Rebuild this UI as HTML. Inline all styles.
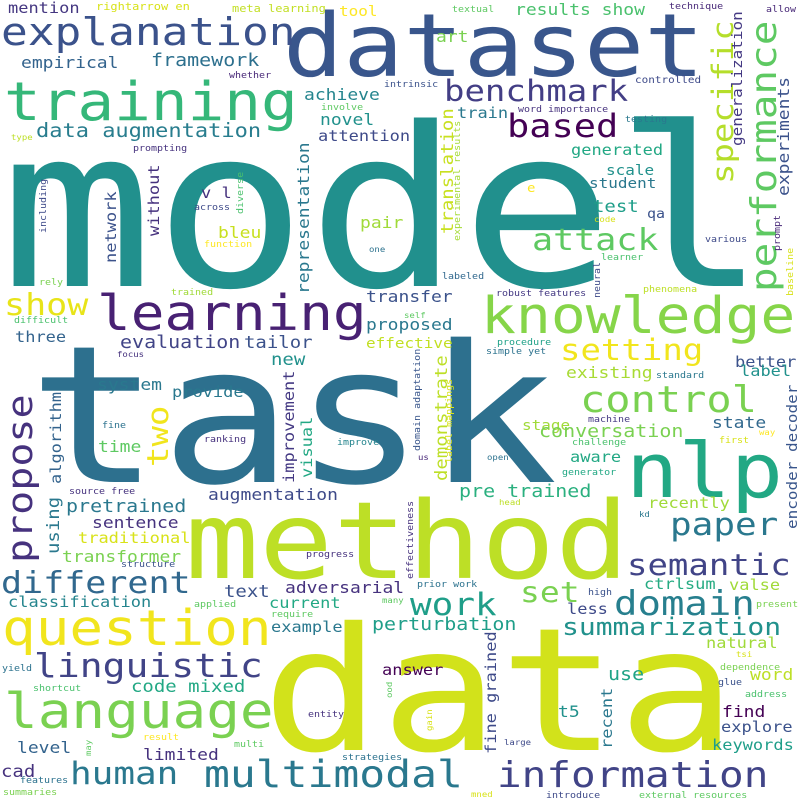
<!DOCTYPE html>
<html><head><meta charset="utf-8"><style>
html,body{margin:0;padding:0;background:#fff;}
svg{display:block;}
text{font-family:"DejaVu Sans Mono","Liberation Mono",monospace;}
</style></head><body>
<svg width="800" height="800" viewBox="0 0 800 800" xmlns="http://www.w3.org/2000/svg">
<rect width="800" height="800" fill="#fff"/>
<text transform="translate(0,286) scale(1,.87)" font-size="255" fill="#21908d">model</text>
<text transform="translate(28,482) scale(1,.87)" font-size="220" fill="#2d708e">task</text>
<text transform="translate(262,750) scale(1,.87)" font-size="197" fill="#d2e21b">data</text>
<text transform="translate(185,578) scale(1,.87)" font-size="123" fill="#bddf26">method</text>
<text transform="translate(283,76) scale(1,.87)" font-size="100" fill="#39568c">dataset</text>
<text transform="translate(626,497) scale(1,.87)" font-size="87" fill="#22a884">nlp</text>
<text transform="translate(1,45) scale(1,.87)" font-size="44.5" fill="#3b528b">explanation</text>
<text transform="translate(4,120) scale(1,.87)" font-size="61" fill="#35b779">training</text>
<text transform="translate(481,333) scale(1,.87)" font-size="58" fill="#86d549">knowledge</text>
<text transform="translate(97,330) scale(1,.87)" font-size="56" fill="#482173">learning</text>
<text transform="translate(2,645) scale(1,.87)" font-size="56" fill="#f1e51d">question</text>
<text transform="translate(4,728) scale(1,.87)" font-size="56" fill="#7ad151">language</text>
<text transform="translate(204,787) scale(1,.87)" font-size="43" fill="#2a788e">multimodal</text>
<text transform="translate(497,787) scale(1,.87)" font-size="41" fill="#414487">information</text>
<text transform="translate(70,784) scale(1,.87)" font-size="36" fill="#2a788e">human</text>
<text transform="translate(34,677) scale(1,.87)" font-size="38" fill="#414487">linguistic</text>
<text transform="translate(1,593) scale(1,.87)" font-size="35" fill="#31688e">different</text>
<text transform="translate(32,563) rotate(-90) scale(1,.87)" font-size="40" fill="#46327e">propose</text>
<text transform="translate(776,292) rotate(-90) scale(1,.87)" font-size="41" fill="#5ec962">performance</text>
<text transform="translate(733,184) rotate(-90) scale(1,.87)" font-size="34" fill="#b5de2b">specific</text>
<text transform="translate(444,101) scale(1,.87)" font-size="34" fill="#433e85">benchmark</text>
<text transform="translate(507,137) scale(1,.87)" font-size="37" fill="#440154">based</text>
<text transform="translate(532,250) scale(1,.87)" font-size="35" fill="#5ec962">attack</text>
<text transform="translate(580,412) scale(1,.87)" font-size="42" fill="#7ad151">control</text>
<text transform="translate(560,360) scale(1,.87)" font-size="34" fill="#f1e51d">setting</text>
<text transform="translate(670,535) scale(1,.87)" font-size="36" fill="#2a788e">paper</text>
<text transform="translate(627,575) scale(1,.87)" font-size="34" fill="#414487">semantic</text>
<text transform="translate(614,615) scale(1,.87)" font-size="39" fill="#277f8e">domain</text>
<text transform="translate(410,615) scale(1,.87)" font-size="36" fill="#1f9e89">work</text>
<text transform="translate(520,602) scale(1,.87)" font-size="33" fill="#7ad151">set</text>
<text transform="translate(562,635) scale(1,.87)" font-size="28" fill="#21918c">summarization</text>
<text transform="translate(4,315) scale(1,.87)" font-size="35" fill="#e8e419">show</text>
<text transform="translate(168,467) rotate(-90) scale(1,.87)" font-size="34" fill="#f1e51d">two</text>
<text transform="translate(36,137) scale(1,.87)" font-size="22" fill="#287d8e">data augmentation</text>
<text transform="translate(120,348) scale(1,.87)" font-size="20" fill="#414487">evaluation</text>
<text transform="translate(244,348) scale(1,.87)" font-size="19" fill="#3b528b">tailor</text>
<text transform="translate(8,13) scale(1,.87)" font-size="17" fill="#453781">mention</text>
<text transform="translate(96,10) scale(1,.87)" font-size="12" fill="#d8e219">rightarrow en</text>
<text transform="translate(232,12) scale(1,.87)" font-size="12" fill="#c2df23">meta learning</text>
<text transform="translate(339,16) scale(1,.87)" font-size="16" fill="#fde725">tool</text>
<text transform="translate(21,68) scale(1,.87)" font-size="18" fill="#33638d">empirical</text>
<text transform="translate(151,66) scale(1,.87)" font-size="20" fill="#2d708e">framework</text>
<text transform="translate(229,78) scale(1,.87)" font-size="10" fill="#482878">whether</text>
<text transform="translate(304,100) scale(1,.87)" font-size="18" fill="#25858e">achieve</text>
<text transform="translate(321,110) scale(1,.87)" font-size="10" fill="#5ec962">involve</text>
<text transform="translate(320,125) scale(1,.87)" font-size="18" fill="#21918c">novel</text>
<text transform="translate(318,141) scale(1,.87)" font-size="17" fill="#3e4a89">attention</text>
<text transform="translate(11,140) scale(1,.87)" font-size="9" fill="#bddf26">type</text>
<text transform="translate(133,151) scale(1,.87)" font-size="10" fill="#46327e">prompting</text>
<text transform="translate(384,87) scale(1,.87)" font-size="10" fill="#3b528b">intrinsic</text>
<text transform="translate(452,12) scale(1,.87)" font-size="10" fill="#5ec962">textual</text>
<text transform="translate(515,15) scale(1,.87)" font-size="18" fill="#4ac16d">results show</text>
<text transform="translate(669,9) scale(1,.87)" font-size="10" fill="#482878">technique</text>
<text transform="translate(766,12) scale(1,.87)" font-size="10" fill="#482878">allow</text>
<text transform="translate(436,42) scale(1,.87)" font-size="18" fill="#7ad151">art</text>
<text transform="translate(742,146) rotate(-90) scale(1,.87)" font-size="16" fill="#443983">generalization</text>
<text transform="translate(789,196) rotate(-90) scale(1,.87)" font-size="18" fill="#3b528b">experiments</text>
<text transform="translate(635,83) scale(1,.87)" font-size="11" fill="#3e4a89">controlled</text>
<text transform="translate(457,118) scale(1,.87)" font-size="17" fill="#2a788e">train</text>
<text transform="translate(518,112) scale(1,.87)" font-size="10" fill="#46327e">word importance</text>
<text transform="translate(625,122) scale(1,.87)" font-size="10" fill="#2a788e">testing</text>
<text transform="translate(453,234) rotate(-90) scale(1,.87)" font-size="19" fill="#c8e020">translation</text>
<text transform="translate(460,241) rotate(-90) scale(1,.87)" font-size="10" fill="#a5db36">experimental results</text>
<text transform="translate(571,155) scale(1,.87)" font-size="17" fill="#22a884">generated</text>
<text transform="translate(606,175) scale(1,.87)" font-size="16" fill="#21918c">scale</text>
<text transform="translate(589,188) scale(1,.87)" font-size="16" fill="#2a788e">student</text>
<text transform="translate(527,192) scale(1,.87)" font-size="14" fill="#fde725">e</text>
<text transform="translate(593,212) scale(1,.87)" font-size="19" fill="#1f9e89">test</text>
<text transform="translate(647,218) scale(1,.87)" font-size="15" fill="#3b528b">qa</text>
<text transform="translate(594,222) scale(1,.87)" font-size="9" fill="#d8e219">code</text>
<text transform="translate(705,242) scale(1,.87)" font-size="10" fill="#3e4a89">various</text>
<text transform="translate(780,251) rotate(-90) scale(1,.87)" font-size="10" fill="#482878">prompt</text>
<text transform="translate(793,296) rotate(-90) scale(1,.87)" font-size="10" fill="#d8e219">baseline</text>
<text transform="translate(601,260) scale(1,.87)" font-size="10" fill="#4ac16d">learner</text>
<text transform="translate(442,279) scale(1,.87)" font-size="10" fill="#31688e">labeled</text>
<text transform="translate(600,298) rotate(-90) scale(1,.87)" font-size="10" fill="#3e4a89">neural</text>
<text transform="translate(643,292) scale(1,.87)" font-size="10" fill="#bddf26">phenomena</text>
<text transform="translate(496,296) scale(1,.87)" font-size="10" fill="#443983">robust features</text>
<text transform="translate(366,302) scale(1,.87)" font-size="18" fill="#3b528b">transfer</text>
<text transform="translate(366,330) scale(1,.87)" font-size="18" fill="#2a788e">proposed</text>
<text transform="translate(366,348) scale(1,.87)" font-size="16" fill="#c2df23">effective</text>
<text transform="translate(404,318) scale(1,.87)" font-size="9" fill="#5ec962">self</text>
<text transform="translate(497,345) scale(1,.87)" font-size="10" fill="#1fa188">procedure</text>
<text transform="translate(486,354) scale(1,.87)" font-size="10" fill="#2c728e">simple yet</text>
<text transform="translate(735,367) scale(1,.87)" font-size="17" fill="#3b528b">better</text>
<text transform="translate(740,376) scale(1,.87)" font-size="17" fill="#21918c">label</text>
<text transform="translate(566,378) scale(1,.87)" font-size="18" fill="#a8db34">existing</text>
<text transform="translate(656,378) scale(1,.87)" font-size="10" fill="#2a788e">standard</text>
<text transform="translate(447,481) rotate(-90) scale(1,.87)" font-size="19" fill="#bddf26">demonstrate</text>
<text transform="translate(420,451) rotate(-90) scale(1,.87)" font-size="10" fill="#39568c">domain adaptation</text>
<text transform="translate(452,463) rotate(-90) scale(1,.87)" font-size="10" fill="#d8e219">label mappings</text>
<text transform="translate(797,529) rotate(-90) scale(1,.87)" font-size="16" fill="#39568c">encoder decoder</text>
<text transform="translate(522,430) scale(1,.87)" font-size="16" fill="#a0da39">stage</text>
<text transform="translate(588,422) scale(1,.87)" font-size="10" fill="#443983">machine</text>
<text transform="translate(539,437) scale(1,.87)" font-size="20" fill="#7ad151">conversation</text>
<text transform="translate(712,428) scale(1,.87)" font-size="18" fill="#31688e">state</text>
<text transform="translate(759,435) scale(1,.87)" font-size="9" fill="#fde725">way</text>
<text transform="translate(719,443) scale(1,.87)" font-size="10" fill="#d8e219">first</text>
<text transform="translate(572,445) scale(1,.87)" font-size="10" fill="#4ac16d">challenge</text>
<text transform="translate(418,460) scale(1,.87)" font-size="9" fill="#482878">us</text>
<text transform="translate(487,460) scale(1,.87)" font-size="9" fill="#2c728e">open</text>
<text transform="translate(570,462) scale(1,.87)" font-size="17" fill="#22a884">aware</text>
<text transform="translate(562,475) scale(1,.87)" font-size="10" fill="#22a884">generator</text>
<text transform="translate(459,497) scale(1,.87)" font-size="20" fill="#2ab07f">pre trained</text>
<text transform="translate(499,505) scale(1,.87)" font-size="9" fill="#bddf26">head</text>
<text transform="translate(648,508) scale(1,.87)" font-size="17" fill="#a0da39">recently</text>
<text transform="translate(639,517) scale(1,.87)" font-size="9" fill="#2a788e">kd</text>
<text transform="translate(413,579) rotate(-90) scale(1,.87)" font-size="10" fill="#46327e">effectiveness</text>
<text transform="translate(417,587) scale(1,.87)" font-size="10" fill="#2c728e">prior work</text>
<text transform="translate(644,589) scale(1,.87)" font-size="17" fill="#25ab82">ctrlsum</text>
<text transform="translate(729,590) scale(1,.87)" font-size="17" fill="#a0da39">valse</text>
<text transform="translate(588,595) scale(1,.87)" font-size="10" fill="#3b528b">high</text>
<text transform="translate(756,607) scale(1,.87)" font-size="10" fill="#7ad151">present</text>
<text transform="translate(567,614) scale(1,.87)" font-size="17" fill="#3e4a89">less</text>
<text transform="translate(372,630) scale(1,.87)" font-size="20" fill="#1f9e89">perturbation</text>
<text transform="translate(706,648) scale(1,.87)" font-size="17" fill="#a0da39">natural</text>
<text transform="translate(736,657) scale(1,.87)" font-size="9" fill="#d8e219">tsi</text>
<text transform="translate(720,670) scale(1,.87)" font-size="10" fill="#7ad151">dependence</text>
<text transform="translate(382,675) scale(1,.87)" font-size="17" fill="#440154">answer</text>
<text transform="translate(608,680) scale(1,.87)" font-size="20" fill="#20a386">use</text>
<text transform="translate(750,680) scale(1,.87)" font-size="18" fill="#bddf26">word</text>
<text transform="translate(718,685) scale(1,.87)" font-size="10" fill="#3b528b">glue</text>
<text transform="translate(745,697) scale(1,.87)" font-size="10" fill="#4ac16d">address</text>
<text transform="translate(496,754) rotate(-90) scale(1,.87)" font-size="17" fill="#3e4a89">fine grained</text>
<text transform="translate(612,749) rotate(-90) scale(1,.87)" font-size="17" fill="#2a788e">recent</text>
<text transform="translate(558,717) scale(1,.87)" font-size="18" fill="#21918c">t5</text>
<text transform="translate(722,717) scale(1,.87)" font-size="18" fill="#440154">find</text>
<text transform="translate(721,732) scale(1,.87)" font-size="17" fill="#3b528b">explore</text>
<text transform="translate(432,731) rotate(-90) scale(1,.87)" font-size="9" fill="#d8e219">gain</text>
<text transform="translate(504,745) scale(1,.87)" font-size="9" fill="#3e4a89">large</text>
<text transform="translate(712,750) scale(1,.87)" font-size="17" fill="#1f9e89">keywords</text>
<text transform="translate(471,797) scale(1,.87)" font-size="9" fill="#d8e219">mned</text>
<text transform="translate(546,798) scale(1,.87)" font-size="10" fill="#3e4a89">introduce</text>
<text transform="translate(639,798) scale(1,.87)" font-size="10" fill="#5ec962">external resources</text>
<text transform="translate(1,777) scale(1,.87)" font-size="19" fill="#46327e">cad</text>
<text transform="translate(20,783) scale(1,.87)" font-size="10" fill="#2c728e">features</text>
<text transform="translate(3,795) scale(1,.87)" font-size="10" fill="#7ad151">summaries</text>
<text transform="translate(17,753) scale(1,.87)" font-size="18" fill="#33638d">level</text>
<text transform="translate(143,760) scale(1,.87)" font-size="18" fill="#46327e">limited</text>
<text transform="translate(91,756) rotate(-90) scale(1,.87)" font-size="9" fill="#5ec962">may</text>
<text transform="translate(234,747) scale(1,.87)" font-size="10" fill="#5ec962">multi</text>
<text transform="translate(143,740) scale(1,.87)" font-size="10" fill="#fde725">result</text>
<text transform="translate(342,760) scale(1,.87)" font-size="10" fill="#2c728e">strategies</text>
<text transform="translate(308,717) scale(1,.87)" font-size="10" fill="#46327e">entity</text>
<text transform="translate(392,698) rotate(-90) scale(1,.87)" font-size="9" fill="#5ec962">ood</text>
<text transform="translate(33,691) scale(1,.87)" font-size="10" fill="#4ac16d">shortcut</text>
<text transform="translate(2,671) scale(1,.87)" font-size="10" fill="#2c728e">yield</text>
<text transform="translate(131,692) scale(1,.87)" font-size="19" fill="#22a884">code mixed</text>
<text transform="translate(8,607) scale(1,.87)" font-size="17" fill="#25858e">classification</text>
<text transform="translate(224,597) scale(1,.87)" font-size="19" fill="#3b528b">text</text>
<text transform="translate(285,593) scale(1,.87)" font-size="18" fill="#46327e">adversarial</text>
<text transform="translate(194,607) scale(1,.87)" font-size="10" fill="#5ec962">applied</text>
<text transform="translate(382,603) scale(1,.87)" font-size="9" fill="#5ec962">many</text>
<text transform="translate(269,608) scale(1,.87)" font-size="17" fill="#22a884">current</text>
<text transform="translate(271,617) scale(1,.87)" font-size="10" fill="#5ec962">require</text>
<text transform="translate(271,632) scale(1,.87)" font-size="17" fill="#2a788e">example</text>
<text transform="translate(121,567) scale(1,.87)" font-size="10" fill="#3b528b">structure</text>
<text transform="translate(62,562) scale(1,.87)" font-size="18" fill="#7ad151">transformer</text>
<text transform="translate(78,543) scale(1,.87)" font-size="17" fill="#d8e219">traditional</text>
<text transform="translate(92,528) scale(1,.87)" font-size="18" fill="#46327e">sentence</text>
<text transform="translate(66,512) scale(1,.87)" font-size="20" fill="#2a788e">pretrained</text>
<text transform="translate(69,494) scale(1,.87)" font-size="10" fill="#46327e">source free</text>
<text transform="translate(208,500) scale(1,.87)" font-size="18" fill="#3e4a89">augmentation</text>
<text transform="translate(306,557) scale(1,.87)" font-size="10" fill="#46327e">progress</text>
<text transform="translate(59,554) rotate(-90) scale(1,.87)" font-size="19" fill="#2a788e">using</text>
<text transform="translate(61,484) rotate(-90) scale(1,.87)" font-size="17" fill="#33638d">algorithm</text>
<text transform="translate(98,452) scale(1,.87)" font-size="18" fill="#5ec962">time</text>
<text transform="translate(102,428) scale(1,.87)" font-size="10" fill="#2c728e">fine</text>
<text transform="translate(204,442) scale(1,.87)" font-size="10" fill="#46327e">ranking</text>
<text transform="translate(294,483) rotate(-90) scale(1,.87)" font-size="17" fill="#443983">improvement</text>
<text transform="translate(312,478) rotate(-90) scale(1,.87)" font-size="17" fill="#22a884">visual</text>
<text transform="translate(337,445) scale(1,.87)" font-size="10" fill="#25858e">improve</text>
<text transform="translate(201,198) scale(1,.87)" font-size="17" fill="#46327e">v l</text>
<text transform="translate(194,210) scale(1,.87)" font-size="10" fill="#3e4a89">across</text>
<text transform="translate(243,214) rotate(-90) scale(1,.87)" font-size="10" fill="#4ac16d">diverse</text>
<text transform="translate(218,238) scale(1,.87)" font-size="18" fill="#c8e020">bleu</text>
<text transform="translate(204,247) scale(1,.87)" font-size="10" fill="#fde725">function</text>
<text transform="translate(159,236) rotate(-90) scale(1,.87)" font-size="17" fill="#46327e">without</text>
<text transform="translate(116,263) rotate(-90) scale(1,.87)" font-size="17" fill="#3b528b">network</text>
<text transform="translate(46,233) rotate(-90) scale(1,.87)" font-size="10" fill="#3e4a89">including</text>
<text transform="translate(309,294) rotate(-90) scale(1,.87)" font-size="18" fill="#2a788e">representation</text>
<text transform="translate(360,228) scale(1,.87)" font-size="18" fill="#a0da39">pair</text>
<text transform="translate(369,252) scale(1,.87)" font-size="9" fill="#2c728e">one</text>
<text transform="translate(39,285) scale(1,.87)" font-size="10" fill="#7ad151">rely</text>
<text transform="translate(171,295) scale(1,.87)" font-size="10" fill="#a0da39">trained</text>
<text transform="translate(14,323) scale(1,.87)" font-size="10" fill="#4ac16d">difficult</text>
<text transform="translate(15,342) scale(1,.87)" font-size="17" fill="#33638d">three</text>
<text transform="translate(117,357) scale(1,.87)" font-size="9" fill="#46327e">focus</text>
<text transform="translate(271,365) scale(1,.87)" font-size="19" fill="#21918c">new</text>
<text transform="translate(97,390) scale(1,.87)" font-size="18" fill="#2a788e">system</text>
<text transform="translate(172,397) scale(1,.87)" font-size="17" fill="#2a788e">provide</text>
</svg>
</body></html>
